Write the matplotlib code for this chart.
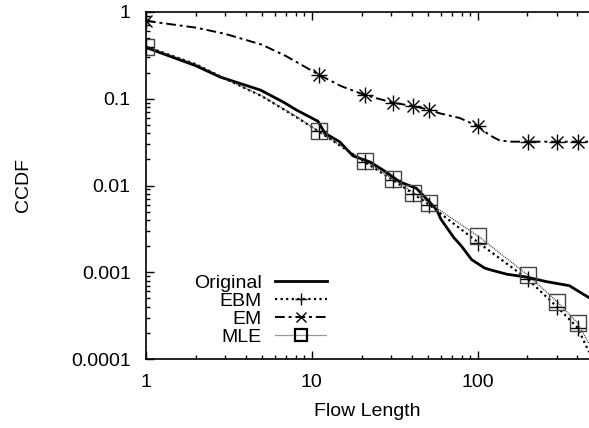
import numpy as np
import matplotlib
matplotlib.use("Agg")
import matplotlib.pyplot as plt

plt.rcParams['font.family'] = ['Liberation Sans', 'DejaVu Sans']

# flow length samples where the model curves carry markers
mark_x = [1, 11, 21, 31, 41, 51, 101, 201, 301, 401]

# empirical CCDF (solid)
orig_x = [1, 2, 2.8, 4.9, 6.7, 8.1, 10.9, 12, 14.7, 17.7, 22.4, 27, 34, 42.7, 51.5, 56.9,
          60, 65, 72, 80, 92, 110, 123, 150, 197, 260, 358, 420, 470]
orig_y = [0.39, 0.24, 0.178, 0.126, 0.092, 0.074, 0.055, 0.040, 0.032, 0.022, 0.0187, 0.015,
          0.011, 0.0093, 0.0064, 0.0052, 0.0041, 0.0033, 0.0025, 0.0020, 0.0014, 0.00112,
          0.00105, 0.00095, 0.00088, 0.00078, 0.00070, 0.00058, 0.00051]

# EBM fit
ebm_x = [1, 2, 3, 5, 8, 11, 21, 31, 41, 51, 101, 201, 301, 401, 470]
ebm_y = [0.40, 0.25, 0.17, 0.107, 0.062, 0.042, 0.0185, 0.0115, 0.0080, 0.0060, 0.0022,
         0.00083, 0.00040, 0.00023, 0.00012]

# EM fit
em_x = [1, 2, 3, 5, 7, 11, 15, 21, 31, 41, 51, 59, 78, 101, 118, 136, 160, 201, 301, 401, 470]
em_y = [0.79, 0.66, 0.56, 0.42, 0.31, 0.19, 0.14, 0.11, 0.09, 0.082, 0.075, 0.068, 0.06,
        0.048, 0.038, 0.033, 0.032, 0.032, 0.032, 0.032, 0.032]

# MLE fit
mle_x = [1, 2, 3, 5, 8, 11, 21, 31, 41, 51, 101, 201, 301, 401, 470]
mle_y = [0.40, 0.25, 0.17, 0.108, 0.063, 0.042, 0.019, 0.0118, 0.0083, 0.0063, 0.0026,
         0.00093, 0.00046, 0.00026, 0.00015]


def marks(xs):
    return [i for i, v in enumerate(xs) if v in mark_x]


fig = plt.figure(figsize=(5.89, 4.28), dpi=100)
ax = fig.add_axes([146 / 589, 1 - 359 / 428, 1 - 146 / 589, 347 / 428])

ax.plot(orig_x, orig_y, color='black', lw=2.0, label='Original')
ax.plot(ebm_x, ebm_y, color='black', lw=1.6, dashes=(1, 1.5), marker='+', ms=11, mew=1.0,
        markevery=marks(ebm_x), label='EBM')
ax.plot(em_x, em_y, color='black', lw=1.4, dashes=(5, 2, 1.5, 2), marker='x', ms=9, mew=1.0,
        markevery=marks(em_x), label='EM')
ax.plot(em_x, em_y, ls='none', color='black', marker='+', ms=12, mew=1.0,
        markevery=marks(em_x))
ax.plot(mle_x, mle_y, color='#333333', lw=0.9, dashes=(0.8, 0.8), marker='s', ms=12, mew=1.0,
        mfc='none', mec='#444444', markevery=marks(mle_x), label='MLE')

ax.set_xscale('log')
ax.set_yscale('log')
ax.set_xlim(1, 470)
ax.set_ylim(0.0001, 1)
ax.set_xticks([1, 10, 100])
ax.set_xticklabels(['1', '10', '100'])
ax.set_yticks([0.0001, 0.001, 0.01, 0.1, 1])
ax.set_yticklabels(['0.0001', '0.001', '0.01', '0.1', '1'])

ax.spines['right'].set_visible(False)
for s in ['left', 'top', 'bottom']:
    ax.spines[s].set_linewidth(1.2)
ax.tick_params(which='both', direction='in', top=True, right=False, labelsize=14, width=1.0)
ax.tick_params(which='major', length=6)
ax.tick_params(which='minor', length=3)
ax.tick_params(axis='x', which='major', pad=10.5)
ax.tick_params(axis='y', which='major', pad=11)

ax.set_xlabel('Flow Length', fontsize=14, labelpad=9)
ax.set_ylabel('CCDF', fontsize=14, labelpad=28)

leg = ax.legend(loc='upper right', bbox_to_anchor=(0.408, 0.245), frameon=False,
                markerfirst=False, fontsize=14, handlelength=2.65, handletextpad=0.7,
                labelspacing=0.03, borderpad=0, borderaxespad=0)
leg._legend_handle_box.get_children()[0].align = 'right'
hs = leg.legend_handles
hs[1].set_markersize(8)
hs[2].set_markersize(7)
hs[3].set_markersize(9)
hs[3].set_markeredgecolor('black')
hs[3].set_markeredgewidth(1.6)

fig.savefig('out.png', dpi=100)
